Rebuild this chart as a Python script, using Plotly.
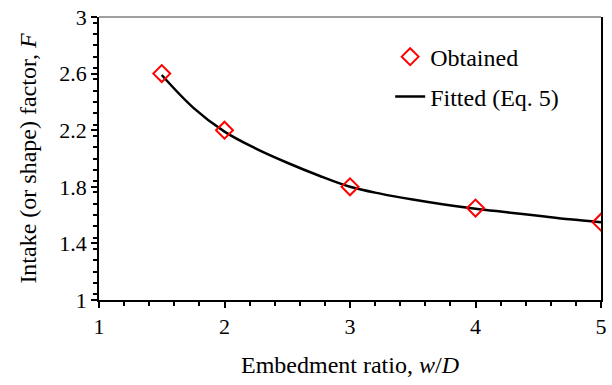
import plotly.graph_objects as go

# Data
obs_x = [1.5, 2, 3, 4, 5]
obs_y = [2.60, 2.20, 1.80, 1.65, 1.55]
fit_x = [1.5, 1.75, 2, 2.25, 2.5, 2.75, 3, 3.25, 3.5, 3.75, 4, 4.25, 4.5, 4.75, 5]
fit_y = [2.59, 2.36, 2.19, 2.07, 1.97, 1.88, 1.80, 1.75, 1.71, 1.675, 1.645, 1.62, 1.595, 1.57, 1.55]
x_ticks = [1, 2, 3, 4, 5]
y_ticks = [1, 1.4, 1.8, 2.2, 2.6, 3]

FONT = "'Liberation Serif', 'Times New Roman', serif"

fig = go.Figure()
fig.add_trace(go.Scatter(
    x=fit_x, y=fit_y, mode="lines", name="Fitted (Eq. 5)", legend="legend2",
    line=dict(color="black", width=2.5, shape="spline"),
))
fig.add_trace(go.Scatter(
    x=obs_x, y=obs_y, mode="markers", name="Obtained", legend="legend",
    marker=dict(symbol="diamond-open", color="red", size=13, line=dict(width=2, color="red")),
))

leg_common = dict(xanchor="left", yanchor="top", bgcolor="rgba(0,0,0,0)",
                  font=dict(size=24, family=FONT), itemwidth=30)

fig.update_layout(
    width=612, height=385,
    margin=dict(l=99, r=11, t=17, b=85, autoexpand=False),
    paper_bgcolor="white", plot_bgcolor="white",
    font=dict(family=FONT, size=22, color="black"),
    showlegend=True,
    legend=dict(x=0.58, y=0.938, **leg_common),
    legend2=dict(x=0.58, y=0.797, **leg_common),
    xaxis=dict(
        range=[1, 5], tickvals=x_ticks, ticktext=[str(v) for v in x_ticks],
        showgrid=False, zeroline=False,
        showline=True, linecolor="black", linewidth=1.5,
        ticks="outside", ticklen=6, tickcolor="black", tickwidth=1.5,
        minor=dict(dtick=0.2, ticks="outside", ticklen=4, tickcolor="black", tickwidth=1.5, showgrid=False),
        title=dict(text="Embedment ratio, <i>w</i>/<i>D</i>", font=dict(size=24, family=FONT), standoff=18),
        tickfont=dict(size=22, family=FONT),
    ),
    yaxis=dict(
        range=[1, 3], tickvals=y_ticks, ticktext=[f"{v:g}" for v in y_ticks],
        showgrid=False, zeroline=False,
        showline=True, linecolor="black", linewidth=1.5, mirror=True,
        ticks="outside", ticklen=6, tickcolor="black", tickwidth=1.5,
        minor=dict(dtick=0.08, ticks="outside", ticklen=4, tickcolor="black", tickwidth=1.5, showgrid=False),
        title=dict(text="Intake (or shape) factor, <i>F</i>", font=dict(size=24, family=FONT), standoff=16),
        tickfont=dict(size=22, family=FONT),
    ),
)
# top border (gray)
fig.add_shape(type="line", xref="paper", yref="paper", x0=0, x1=1, y0=1, y1=1,
              line=dict(color="#7f7f7f", width=1.5))

fig.write_html("out.html")
